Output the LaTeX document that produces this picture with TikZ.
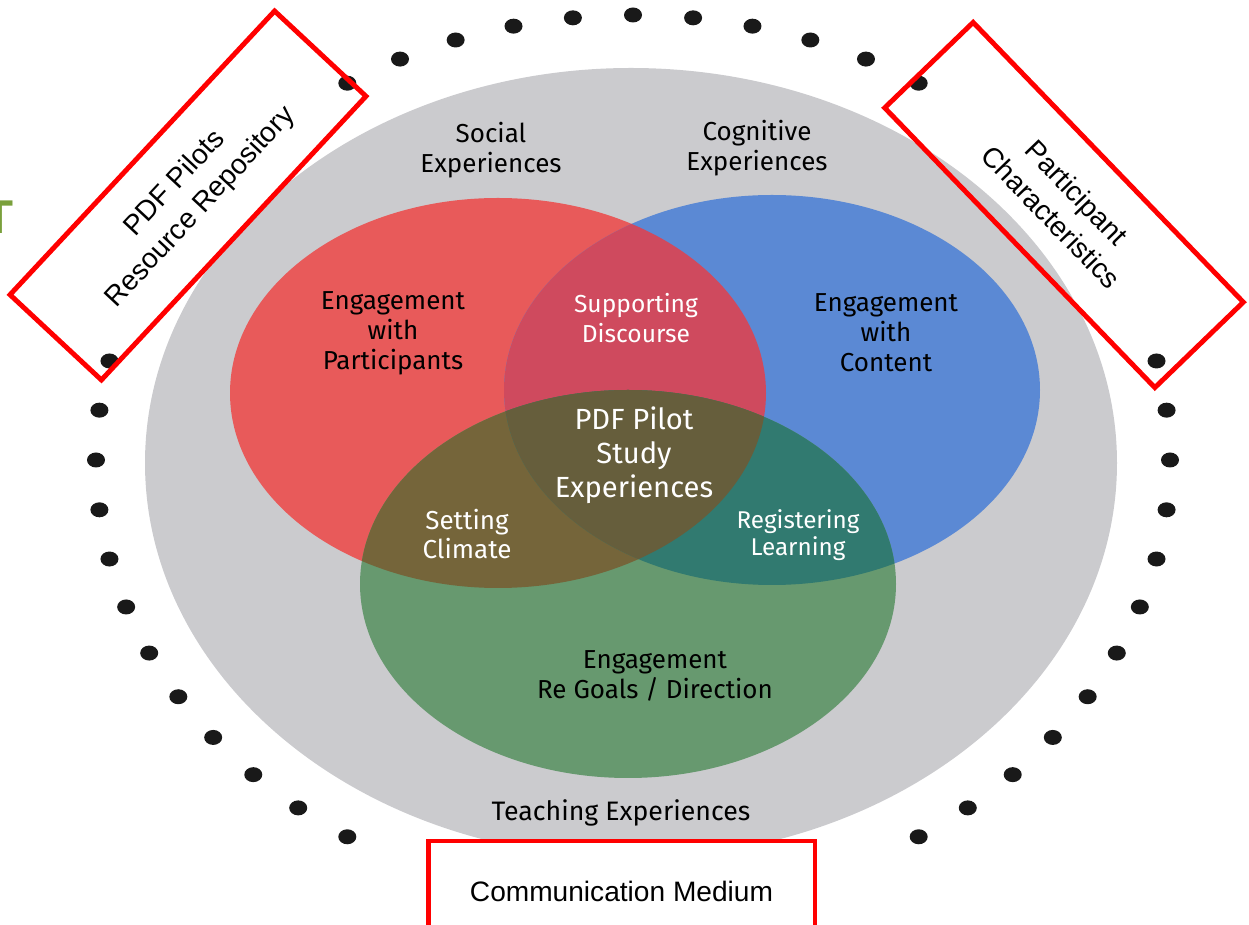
\documentclass[tikz,border=0pt]{standalone}
\usepackage{fontspec}
\setmainfont{Liberation Sans}
\newfontfamily\handfont{Fira Sans}
\usetikzlibrary{positioning}

\definecolor{ringgray}{HTML}{CBCBCE}
\definecolor{socialred}{HTML}{E85A5A}
\definecolor{cognitiveblue}{HTML}{5B89D4}
\definecolor{teachgreen}{HTML}{67996F}
\definecolor{discoursered}{HTML}{CF4A5E}
\definecolor{climateolive}{HTML}{75653A}
\definecolor{learningteal}{HTML}{317A70}
\definecolor{coreolive}{HTML}{665E3C}
\definecolor{cutgreen}{HTML}{7AA03C}

\begin{document}
\begin{tikzpicture}[
		x=0.02cm, y=-0.02cm,
		dot/.style={fill=black!90},
		frame/.style={draw=red, line width=2.8pt, align=center, inner sep=0pt, font=\fontsize{16}{20}\selectfont},
		hand/.style={align=center, font=\handfont\fontsize{14.8}{17}\selectfont},
		light/.style={hand, text=white},
	]
	\useasboundingbox (0,0) rectangle (1249,925);

	\coordinate (mid) at (631,463);
	\coordinate (soc) at (498,393);
	\coordinate (cog) at (772,390);
	\coordinate (tea) at (628,584);

	% ring of dots, none behind the two tilted boxes
	\foreach \k in {-23,...,-12,-5,-4,...,5,12,13,...,23}
		\fill[dot] ({633+537*cos(90+\k*90/14)}, {460-445*sin(90+\k*90/14)}) ellipse [x radius=9, y radius=7.5];

	\fill[ringgray] (mid) ellipse [x radius=486, y radius=395];

	% the three experiences
	\fill[socialred] (soc) ellipse [x radius=268, y radius=195];
	\fill[cognitiveblue] (cog) ellipse [x radius=268, y radius=195];
	\fill[teachgreen] (tea) ellipse [x radius=268, y radius=194];

	\begin{scope}
		\clip (soc) ellipse [x radius=268, y radius=195];
		\fill[discoursered] (cog) ellipse [x radius=268, y radius=195];
		\fill[climateolive] (tea) ellipse [x radius=268, y radius=194];
	\end{scope}
	\begin{scope}
		\clip (cog) ellipse [x radius=268, y radius=195];
		\fill[learningteal] (tea) ellipse [x radius=268, y radius=194];
		\clip (soc) ellipse [x radius=268, y radius=195];
		\fill[coreolive] (tea) ellipse [x radius=268, y radius=194];
	\end{scope}

	\node[hand] (social) at (491,150) {Social\\Experiences};
	\node[hand] (cognitive) at (757,148) {Cognitive\\Experiences};
	\node[hand] (participants) at (393,333) {Engagement\\with\\Participants};
	\node[light, font=\handfont\fontsize{14}{17}\selectfont] (discourse) at (636,318) {Supporting\\Discourse};
	\node[hand] (content) at (886,333) {Engagement\\with\\Content};
	\node[light, font=\handfont\fontsize{16.6}{19.5}\selectfont] (core) at (634,455) {PDF Pilot\\Study\\Experiences};
	\node[light] (climate) at (467,534) {Setting\\Climate};
	\node[light, font=\handfont\fontsize{13.8}{15.5}\selectfont] (learning) at (798,535) {Registering\\Learning};
	\node[hand] (goals) at (655,676) {Engagement\\Re Goals / Direction};
	\node[hand, font=\handfont\fontsize{15.2}{17}\selectfont] (teaching) at (621,813) {Teaching Experiences};

	% outer factors
	\node[frame, rotate=47, minimum width=7.76cm, minimum height=2.5cm] (repository) at (188,195.5) {PDF Pilots\\Resource Repository};
	\node[frame, rotate=-46, minimum width=7.78cm, minimum height=2.46cm] (characteristics) at (1064,205) {Participant\\Characteristics};
	\node[frame, fill=white, minimum width=7.74cm, minimum height=2cm] (medium) at (621.5,891) {Communication Medium};

	\node[text=cutgreen, font=\bfseries\fontsize{27}{27}\selectfont, inner sep=0pt] (cut) at (-1,217.5) {T};
\end{tikzpicture}
\end{document}
